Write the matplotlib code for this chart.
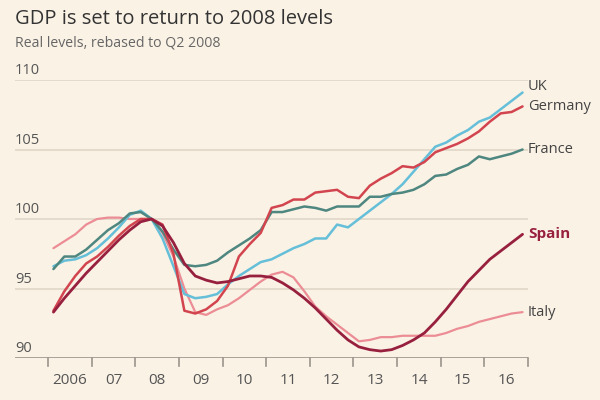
import numpy as np
import matplotlib.pyplot as plt
from matplotlib.transforms import blended_transform_factory

# quarterly GDP, 2006 Q1 .. 2016 Q4, Q2 2008 = 100
years = np.arange(2006, 2017)
quarters = 2006 + (np.arange(44) + 0.5) / 4

uk = [96.6, 97.0, 97.1, 97.4, 97.9, 98.6, 99.4, 100.3, 100.6, 100.0, 98.6, 96.6,
      94.6, 94.3, 94.4, 94.6, 95.3, 95.9, 96.4, 96.9, 97.1, 97.5, 97.9, 98.2,
      98.6, 98.6, 99.6, 99.4, 100.0, 100.6, 101.2, 101.8, 102.5, 103.4, 104.3, 105.2,
      105.5, 106.0, 106.4, 107.0, 107.3, 107.9, 108.5, 109.1]
germany = [93.4, 94.8, 95.9, 96.8, 97.3, 98.0, 98.8, 99.5, 100.0, 100.0, 99.6, 97.5,
           93.4, 93.2, 93.5, 94.1, 95.2, 97.3, 98.2, 99.0, 100.8, 101.0, 101.4, 101.4,
           101.9, 102.0, 102.1, 101.6, 101.5, 102.4, 102.9, 103.3, 103.8, 103.7, 104.1, 104.8,
           105.1, 105.4, 105.8, 106.3, 107.0, 107.6, 107.7, 108.1]
france = [96.4, 97.3, 97.3, 97.8, 98.5, 99.2, 99.7, 100.4, 100.5, 100.0, 99.1, 97.8,
          96.7, 96.6, 96.7, 97.0, 97.6, 98.1, 98.6, 99.2, 100.5, 100.5, 100.7, 100.9,
          100.8, 100.6, 100.9, 100.9, 100.9, 101.6, 101.6, 101.8, 101.9, 102.1, 102.5, 103.1,
          103.2, 103.6, 103.9, 104.5, 104.3, 104.5, 104.7, 105.0]
spain = [93.3, 94.3, 95.2, 96.1, 96.9, 97.7, 98.5, 99.2, 99.8, 100.0, 99.5, 98.3,
         96.8, 95.9, 95.6, 95.4, 95.5, 95.7, 95.9, 95.9, 95.8, 95.4, 94.9, 94.3,
         93.6, 92.8, 92.0, 91.3, 90.8, 90.6, 90.5, 90.6, 90.9, 91.3, 91.8, 92.6,
         93.5, 94.5, 95.5, 96.3, 97.1, 97.7, 98.3, 98.9]
italy = [97.9, 98.4, 98.9, 99.6, 100.0, 100.1, 100.1, 100.0, 100.0, 100.0, 99.0, 97.3,
         95.0, 93.3, 93.1, 93.5, 93.8, 94.3, 94.9, 95.5, 96.0, 96.2, 95.8, 94.8,
         93.7, 93.0, 92.4, 91.8, 91.2, 91.3, 91.5, 91.5, 91.6, 91.6, 91.6, 91.6,
         91.8, 92.1, 92.3, 92.6, 92.8, 93.0, 93.2, 93.3]

yticks = [90, 95, 100, 105, 110]
xlabels = ["2006", "07", "08", "09", "10", "11", "12", "13", "14", "15", "16"]

bg = "#faf2e5"
plt.rcParams['font.family'] = ['Open Sans', 'DejaVu Sans']

fig = plt.figure(figsize=(6, 4), dpi=100, facecolor=bg)
px_year = 43.64
left_px, right_px = 15, 528
ax = fig.add_axes([left_px / 600, 1 - 358 / 400, (right_px - left_px) / 600, (358 - 80) / 400])
ax.set_facecolor(bg)
ax.set_xlim(2006 - (48 - left_px) / px_year, 2017)
ax.set_ylim(90, 110)
for s in ax.spines.values():
    s.set_visible(False)
ax.set_xticks([])
ax.set_yticks([])

# gridlines and y labels sitting just above them
tr = blended_transform_factory(ax.transAxes, ax.transData)
for v in yticks[1:]:
    ax.axhline(v, color="#e3d9cb", lw=1.3, zorder=1)
for v in yticks:
    ax.text(0, v + 0.12, str(v), transform=tr, ha="left", va="bottom",
            fontsize=10.5, color="#555555")
ax.axhline(90, color="#9a948c", lw=1.2, zorder=2)

# year ticks below the axis, labels in between
for y in range(2006, 2018):
    ax.plot([y, y], [90, 89.45], color="#9a948c", lw=1.2, clip_on=False)
for y, lab in zip(years, xlabels):
    ax.text(y + 0.5, 88.4, lab, ha="center", va="center", fontsize=11, color="#555555")

series = [
    ("Italy", italy, "#ec8d95", 1.6),
    ("UK", uk, "#66bfd9", 1.8),
    ("France", france, "#4e8680", 1.8),
    ("Germany", germany, "#d2454f", 1.8),
    ("Spain", spain, "#98203f", 2.0),
]
for name, vals, col, lw in series:
    ax.plot(quarters, vals, color=col, lw=lw, zorder=3, solid_capstyle="round")

# end labels
label_pos = {"UK": 109.5, "Germany": 108.1, "France": 105.0, "Spain": 98.9, "Italy": 93.3}
for name, vals, col, lw in series:
    bold = name == "Spain"
    ax.text(quarters[-1] + 0.12, label_pos[name], name, ha="left", va="center",
            fontsize=11 if bold else 10.5, fontweight="bold" if bold else "normal",
            color="#98203f" if bold else "#444444", clip_on=False)

fig.text(15 / 600, 1 - 19 / 400, "GDP is set to return to 2008 levels", ha="left", va="center",
         fontsize=14.5, color="#333333")
fig.text(15 / 600, 1 - 43 / 400, "Real levels, rebased to Q2 2008", ha="left", va="center",
         fontsize=10.2, color="#666666")

fig.savefig("out.png", dpi=100, facecolor=bg)
